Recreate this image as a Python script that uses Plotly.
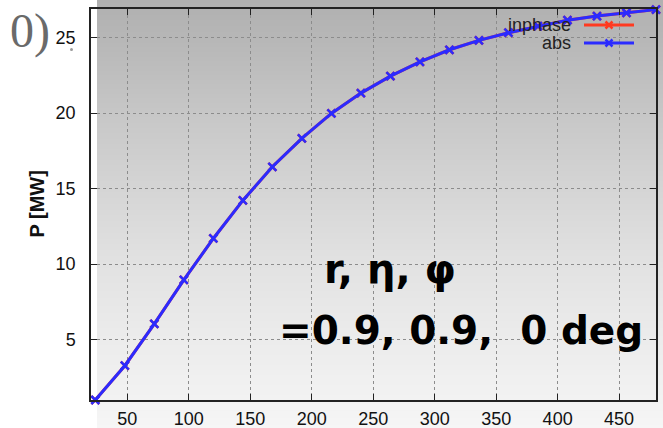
import zlib, struct, base64
import plotly.graph_objects as go

# ---------------- data ----------------
x_vals = [24, 48, 72, 96, 120, 144, 168, 192, 216, 240,
          264, 288, 312, 336, 360, 384, 408, 432, 456, 480]
p_abs = [1.00, 3.27, 6.04, 8.96, 11.70, 14.22, 16.45, 18.33, 19.98, 21.33,
         22.45, 23.40, 24.20, 24.82, 25.33, 25.77, 26.16, 26.43, 26.65, 26.86]
p_inphase = [1.00, 3.27, 6.04, 8.96, 11.70, 14.22, 16.45, 18.33, 19.98, 21.33,
             22.45, 23.40, 24.20, 24.82, 25.33, 25.77, 26.16, 26.43, 26.65, 26.86]
x_ticks = [50, 100, 150, 200, 250, 300, 350, 400, 450]
y_ticks = [5, 10, 15, 20, 25]

W, H = 663, 428
L, R, T, B = 91, 7, 9, 28
PW, PH = W - L - R, H - T - B

def px(xp):
    return (xp - L) / PW

def py(yp):
    return (H - B - yp) / PH

# ---------------- background gradient image ----------------
stops = [(0, 176), (40, 183), (114, 199), (189, 213), (264, 226), (339, 236), (400, 242), (428, 246)]
def gray_at(r):
    for (a, ga), (b, gb) in zip(stops[:-1], stops[1:]):
        if a <= r <= b:
            return int(round(ga + (gb - ga) * (r - a) / (b - a)))
    return stops[-1][1]

rows = [gray_at(r) for r in range(H)]
wimg = 4
raw = b"".join(b"\x00" + bytes([v] * wimg) for v in rows)
def chunk(t, d):
    return struct.pack(">I", len(d)) + t + d + struct.pack(">I", zlib.crc32(t + d) & 0xffffffff)
png = (b"\x89PNG\r\n\x1a\n"
       + chunk(b"IHDR", struct.pack(">IIBBBBB", wimg, H, 8, 0, 0, 0, 0))
       + chunk(b"IDAT", zlib.compress(raw))
       + chunk(b"IEND", b""))
img_src = "data:image/png;base64," + base64.b64encode(png).decode()

RED = "#ff3a20"
BLUE = "#2b2bff"

fig = go.Figure()
fig.add_trace(go.Scatter(
    x=x_vals, y=p_inphase, mode="lines+markers", name="inphase",
    line=dict(color=RED, width=3),
    marker=dict(symbol="x-thin", size=8, line=dict(color=RED, width=2.5)),
    cliponaxis=False, showlegend=False))
fig.add_trace(go.Scatter(
    x=x_vals, y=p_abs, mode="lines+markers", name="abs",
    line=dict(color=BLUE, width=3),
    marker=dict(symbol="x-thin", size=8, line=dict(color=BLUE, width=2.5)),
    cliponaxis=False, showlegend=False))

axis_common = dict(
    showgrid=True, gridcolor="#8c8c8c", griddash="dot", gridwidth=1,
    zeroline=False, showline=True, linecolor="#222", linewidth=1.5,
    mirror="ticks", ticks="inside", ticklen=6, tickcolor="#222", tickwidth=1.2,
    tickfont=dict(family="Liberation Sans, Arial", size=18, color="#111"),
    automargin=False,
)

fig.update_layout(
    width=W, height=H,
    margin=dict(l=L, r=R, t=T, b=B),
    paper_bgcolor="white", plot_bgcolor="rgba(0,0,0,0)",
    xaxis=dict(range=[20.5, 480], tickvals=x_ticks, ticklabelstandoff=2, **axis_common),
    yaxis=dict(range=[1.0, 26.9], tickvals=y_ticks, ticklabelstandoff=10, **axis_common),
    images=[dict(source=img_src, xref="paper", yref="paper",
                 x=px(97), y=py(0), sizex=(W - 97) / PW, sizey=H / PH,
                 xanchor="left", yanchor="top", sizing="stretch", layer="below")],
)

# legend (gnuplot style: text then sample)
leg = [("inphase", RED, 25), ("abs", BLUE, 43)]
shapes = []
annotations = []
for name, col, yy in leg:
    annotations.append(dict(text=name, xref="paper", yref="paper", x=px(573), y=py(yy),
                            xanchor="right", yanchor="middle", showarrow=False,
                            font=dict(family="Liberation Sans, Arial", size=18, color="#222")))
    shapes.append(dict(type="line", xref="paper", yref="paper", x0=px(584), x1=px(634),
                       y0=py(yy), y1=py(yy), line=dict(color=col, width=3), layer="above"))
    cx, cy, d = 609, yy, 3.5
    shapes.append(dict(type="path", xref="paper", yref="paper",
                       path=f"M {px(cx-d)},{py(cy-d)} L {px(cx+d)},{py(cy+d)} M {px(cx-d)},{py(cy+d)} L {px(cx+d)},{py(cy-d)}",
                       line=dict(color=col, width=2.5), layer="above"))

# y-axis title
annotations.append(dict(text="<b>P [MW]</b>", xref="paper", yref="paper", x=px(36), y=0.5,
                        xanchor="center", yanchor="middle", textangle=-90, showarrow=False,
                        font=dict(family="Liberation Sans, Arial", size=20, color="#111")))
# big parameter text
annotations.append(dict(text="<b>r, η, φ</b>", xref="paper", yref="paper", x=px(390), y=py(269),
                        xanchor="center", yanchor="middle", showarrow=False,
                        font=dict(family="DejaVu Sans", size=40, color="black")))
annotations.append(dict(text="<b>=0.9, 0.9,\u00a0\u00a00 deg</b>", xref="paper", yref="paper",
                        x=px(461), y=py(330), xanchor="center", yanchor="middle", showarrow=False,
                        font=dict(family="DejaVu Sans", size=39, color="black")))
# cropped text fragment at top-left
annotations.append(dict(text="= 0)", xref="paper", yref="paper", x=px(52), y=py(31),
                        xanchor="right", yanchor="middle", showarrow=False,
                        font=dict(family="Liberation Serif", size=48, color="#6a6a6a")))
shapes.append(dict(type="circle", xref="paper", yref="paper",
                   x0=px(70), x1=px(73), y0=py(48), y1=py(51),
                   fillcolor="#9a9a9a", line=dict(width=0), layer="above"))

fig.update_layout(shapes=shapes, annotations=annotations)
fig.write_html("out.html")
